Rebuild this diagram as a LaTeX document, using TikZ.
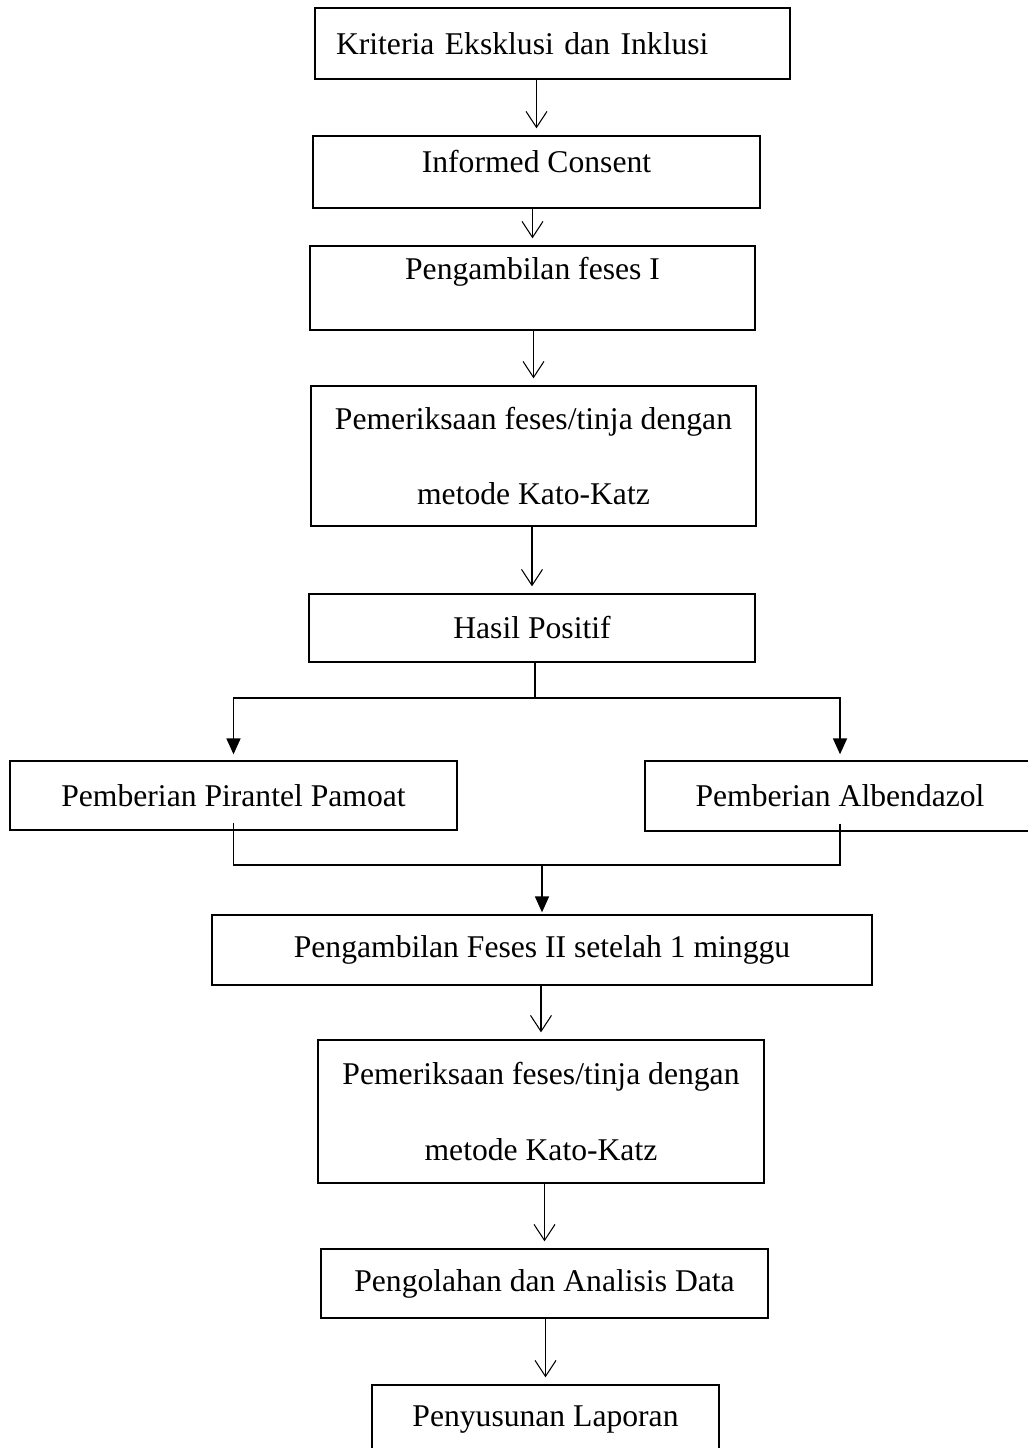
\documentclass[tikz,border=0pt]{standalone}
\usepackage{fontspec}
\setmainfont{Liberation Serif}
\usepackage{tikz}
\usetikzlibrary{arrows.meta,positioning}
\tikzstyle{proses} = [draw, line width=0.75pt, text centered, align=center, inner sep=2pt, font=\fontsize{18}{43}\selectfont]
\tikzstyle{arrow} = [draw, line width=0.6pt, -{Straight Barb[length=0.32cm,width=0.42cm,line width=0.6pt]}, shorten >=0.14cm]
\tikzstyle{panah} = [draw, line width=1pt, -{Triangle[length=0.32cm,width=0.28cm]}]
\tikzstyle{line} = [draw, line width=1pt]
\newcommand{\proses}[3]{node (p#1) [proses,#2] {#3}}

\begin{document}
\begin{tikzpicture}
\useasboundingbox (0,0) rectangle (20.54,-28.96);
\path (11.05,-0.87) \proses{1}{minimum width=9.5cm, minimum height=1.42cm, text width=8.66cm, align=left, inner xsep=0.42cm}{Kriteria Eksklusi dan Inklusi};
\path (p1)+(-0.32,-2.57) \proses{2}{minimum width=8.94cm, minimum height=1.44cm, text depth=12pt}{Informed Consent};
\path [arrow] (p1.south -| p2.north) -- (p2.north);
\path (p2)+(-0.08,-2.32) \proses{3}{minimum width=8.9cm, minimum height=1.68cm, text depth=22pt}{Pengambilan feses I};
\path [arrow] (p2.south -| p3.north) -- (p3.north);
\path (p3)+(0.02,-3.36) \proses{4}{minimum width=8.9cm, minimum height=2.8cm}{Pemeriksaan feses/tinja dengan\\metode Kato-Katz};
\path [arrow] (p3.south -| p4.north) -- (p4.north);
\path (p4)+(-0.03,-3.44) \proses{5}{minimum width=8.92cm, minimum height=1.36cm}{Hasil Positif};
\path [arrow] (p4.south -| p5.north) -- (p5.north);

% cabang obat
\path (p5)+(-5.97,-3.35) \proses{6}{minimum width=8.94cm, minimum height=1.38cm}{Pemberian Pirantel Pamoat};
\path (p5)+(6.16,-3.36) \proses{7}{minimum width=7.8cm, minimum height=1.4cm}{Pemberian Albendazol};
\path (p5.south)+(0.06,-0.7) coordinate (c1);
\path [line] (p5.south -| c1) -- (c1);
\path [panah, shorten >=0.12cm] (c1) -| (p6.north);
\path [panah, shorten >=0.12cm] (c1) -| (p7.north);

\path (p5)+(0.2,-6.44) \proses{8}{minimum width=13.2cm, minimum height=1.4cm}{Pengambilan Feses II setelah 1 minggu};
\path (p8.north)+(0,0.98) coordinate (c2);
\path [line] ([yshift=0.16cm]p6.south) |- (c2);
\path [line] ([yshift=0.16cm]p7.south) |- (c2);
\path [panah, shorten >=0.04cm] (c2) -- (p8.north);

\path (p8)+(-0.02,-3.23) \proses{9}{minimum width=8.92cm, minimum height=2.86cm}{Pemeriksaan feses/tinja dengan\\metode Kato-Katz};
\path [arrow] (p8.south -| p9.north) -- (p9.north);
\path (p9)+(0.07,-3.44) \proses{10}{minimum width=8.94cm, minimum height=1.38cm}{Pengolahan dan Analisis Data};
\path [arrow] (p9.south -| p10.north) -- (p10.north);
\path (p10)+(0.02,-2.73) \proses{11}{minimum width=6.94cm, minimum height=1.4cm}{Penyusunan Laporan};
\path [arrow] (p10.south -| p11.north) -- (p11.north);
\end{tikzpicture}
\end{document}
